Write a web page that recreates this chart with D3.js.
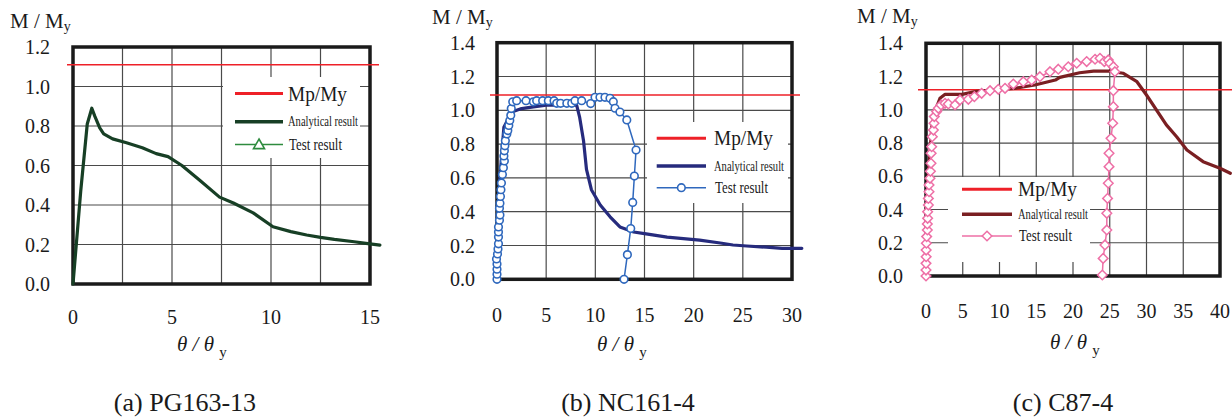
<!DOCTYPE html>
<html><head><meta charset="utf-8">
<script src="https://cdn.jsdelivr.net/npm/d3@7"></script>
<style>
body{margin:0;background:#fff}
svg{display:block}
</style>
</head><body>
<svg id="chart" width="1232" height="417"></svg>
<script>
// ---------- DATA ----------
const legendLabels = ["Mp/My", "Analytical result", "Test result"];
const captions = ["(a) PG163-13", "(b) NC161-4", "(c) C87-4"];

// Panel (a) PG163-13
const yTicksA = [0, 0.2, 0.4, 0.6, 0.8, 1.0, 1.2];
const xTicksA = [0, 5, 10, 15];
const xGridA = [2.5, 5, 7.5, 10, 12.5];
const mpMyA = 1.11;
const analyticalA = [[0,0],[0.39,0.47],[0.72,0.81],[0.95,0.89],[1.1,0.85],[1.35,0.79],[1.55,0.76],[2.0,0.735],[2.7,0.715],[3.5,0.69],[4.2,0.66],[4.8,0.645],[5.5,0.60],[6.4,0.525],[7.4,0.44],[8.1,0.41],[9.1,0.36],[10.1,0.29],[11.0,0.265],[11.8,0.248],[12.5,0.236],[13.2,0.226],[14.2,0.214],[14.8,0.206],[15.5,0.197]];
const testA = [];

// Panel (b) NC161-4
const yTicksB = [0, 0.2, 0.4, 0.6, 0.8, 1.0, 1.2, 1.4];
const xTicksB = [0, 5, 10, 15, 20, 25, 30];
const xGridB = [5, 10, 15, 20, 25];
const mpMyB = 1.09;
const analyticalB = [[0,0],[0.3,0.6],[0.7,0.9],[1.5,0.99],[2.5,1.01],[3.7,1.02],[5,1.03],[8.1,1.03],[8.4,0.96],[8.8,0.82],[9.1,0.65],[9.6,0.53],[10.5,0.44],[11.5,0.37],[12.5,0.31],[13.9,0.28],[15,0.27],[17.3,0.25],[20.6,0.232],[22.7,0.215],[24,0.203],[25.4,0.197],[27.4,0.19],[29,0.183],[31,0.183]];
const testB = [[0,0.00],[0,0.03],[0,0.06],[0,0.09],[-0.05,0.12],[0.05,0.15],[0.1,0.18],[0.15,0.21],[0.15,0.25],[0.15,0.28],[0.15,0.31],[0.25,0.35],[0.3,0.38],[0.25,0.42],[0.3,0.45],[0.35,0.49],[0.4,0.53],[0.45,0.57],[0.55,0.62],[0.65,0.66],[0.75,0.70],[0.7,0.73],[0.75,0.76],[0.8,0.79],[0.85,0.82],[1.0,0.86],[1.1,0.88],[1.2,0.91],[1.3,0.94],[1.4,0.97],[1.45,1.01],[1.6,1.05],[2.0,1.057],[2.95,1.057],[3.7,1.05],[4.03,1.057],[4.64,1.057],[5.22,1.057],[5.8,1.057],[6.07,1.041],[6.47,1.041],[7.1,1.041],[7.6,1.041],[7.93,1.057],[8.61,1.057],[9.53,1.04],[9.97,1.077],[10.47,1.077],[10.98,1.077],[11.49,1.071],[11.83,1.051],[12.0,1.012],[12.5,0.99],[13.2,0.943],[14.14,0.765],[13.97,0.611],[13.8,0.455],[13.6,0.30],[13.26,0.146],[12.92,0.0]];

// Panel (c) C87-4
const yTicksC = [0, 0.2, 0.4, 0.6, 0.8, 1.0, 1.2, 1.4];
const xTicksC = [0, 5, 10, 15, 20, 25, 30, 35, 40];
const xGridC = [5, 10, 15, 20, 25, 30, 35];
const mpMyC = 1.12;
const analyticalC = [[0,0],[0.3,0.6],[0.8,0.9],[1.3,1.0],[1.9,1.069],[2.6,1.093],[4.9,1.093],[6.7,1.109],[8.9,1.119],[12.1,1.129],[14.8,1.149],[17.6,1.179],[18.2,1.195],[20.9,1.223],[22.8,1.233],[25.0,1.233],[26.8,1.22],[28.7,1.169],[30.0,1.089],[32.7,0.909],[34.1,0.838],[35.5,0.758],[37.7,0.688],[40,0.648],[41.4,0.618]];
const testC = [[0,0],[0,0.036],[0,0.076],[0.02,0.116],[0.02,0.156],[0.05,0.197],[0.09,0.237],[0.18,0.277],[0.18,0.313],[0.22,0.347],[0.22,0.387],[0.32,0.427],[0.32,0.467],[0.41,0.507],[0.41,0.548],[0.54,0.588],[0.6,0.63],[0.68,0.678],[0.7,0.738],[0.77,0.778],[0.86,0.838],[1.0,0.878],[1.09,0.919],[1.13,0.959],[1.45,0.989],[1.68,1.009],[2.04,1.029],[2.59,1.039],[3.04,1.035],[3.95,1.029],[4.63,1.059],[5.76,1.063],[6.58,1.079],[7.57,1.099],[8.71,1.115],[9.84,1.123],[10.75,1.129],[11.88,1.155],[13.24,1.169],[14.38,1.179],[15.5,1.199],[16.87,1.229],[18.0,1.244],[19.36,1.259],[20.5,1.28],[21.86,1.29],[23.0,1.304],[23.67,1.31],[24.26,1.29],[24.8,1.30],[25.03,1.28],[25.49,1.259],[25.7,1.229],[25.49,1.115],[25.49,1.019],[25.4,0.919],[25.17,0.828],[24.9,0.738],[24.9,0.658],[24.8,0.558],[24.7,0.467],[24.6,0.377],[24.6,0.277],[24.35,0.187],[24.1,0.106],[23.99,0.006]];

// ---------- LAYOUT / STYLE ----------
const colors = {
  red: "#ee2028",
  a: {ana: "#173f25", test: "#2e8b3e"},
  b: {ana: "#262b7d", test: "#2f68bd"},
  c: {ana: "#7a1f22", test: "#ee6fa6"}
};

const panels = [
  {id:"a", frame:{x0:73,x1:370,y0:47,y1:284}, xDom:[0,15], yDom:[0,1.2],
   yTicks:yTicksA, xTicks:xTicksA, xGrid:xGridA, mp:mpMyA, ana:analyticalA, test:testA, marker:"triangle",
   yLabRight:50, xLabBase:324, titleY:{x:10,y:28}, theta:{x:177,y:351}, capX:185,
   redExt:[67,379], legBox:{x:223,y:77,w:137,h:81}, legRows:[93.5,121.7,144.5], legLine:[235,283], legText:288},
  {id:"b", frame:{x0:497,x1:792,y0:42.7,y1:279.3}, xDom:[0,30], yDom:[0,1.4],
   yTicks:yTicksB, xTicks:xTicksB, xGrid:xGridB, mp:mpMyB, ana:analyticalB, test:testB, marker:"circle",
   yLabRight:475, xLabBase:322, titleY:{x:432,y:24}, theta:{x:597,y:351}, capX:628,
   redExt:[490,800], legBox:{x:647,y:122,w:141,h:81}, legRows:[138.3,166,187.7], legLine:[656.7,706], legText:714},
  {id:"c", frame:{x0:926,x1:1220,y0:43.3,y1:276}, xDom:[0,40], yDom:[0,1.4],
   yTicks:yTicksC, xTicks:xTicksC, xGrid:xGridC, mp:mpMyC, ana:analyticalC, test:testC, marker:"diamond",
   yLabRight:903, xLabBase:318, titleY:{x:857,y:23}, theta:{x:1050,y:349}, capX:1063,
   redExt:[918,1232], legBox:{x:948,y:177,w:142,h:85}, legRows:[189.3,214.3,236], legLine:[962,1012], legText:1018}
];

const svg = d3.select("#chart");

function marker(g, type, x, y, col){
  if(type==="circle"){
    g.append("circle").attr("cx",x).attr("cy",y).attr("r",3.8)
      .attr("fill","#fff").attr("stroke",col).attr("stroke-width",1.6);
  } else if(type==="diamond"){
    const s=4.8;
    g.append("path").attr("d",`M${x},${y-s}L${x+s},${y}L${x},${y+s}L${x-s},${y}Z`)
      .attr("fill","#fff").attr("stroke",col).attr("stroke-width",1.5);
  } else if(type==="triangle"){
    const s=5.5;
    g.append("path").attr("d",`M${x},${y-s}L${x+s},${y+s*0.75}L${x-s},${y+s*0.75}Z`)
      .attr("fill","#fff").attr("stroke",col).attr("stroke-width",1.6);
  }
}

function txt(g, size){
  return g.append("text").attr("font-size",size)
    .style("font-family",`"Liberation Serif", "Times New Roman", serif`).attr("fill","#1a1a1a");
}

panels.forEach((p,i)=>{
  const g = svg.append("g");
  const f = p.frame;
  const x = d3.scaleLinear().domain(p.xDom).range([f.x0,f.x1]);
  const y = d3.scaleLinear().domain(p.yDom).range([f.y1,f.y0]);
  const col = colors[p.id];

  // gridlines
  g.append("g").selectAll("line").data(p.yTicks.filter(v=>v>p.yDom[0]&&v<p.yDom[1])).join("line")
    .attr("x1",f.x0).attr("x2",f.x1).attr("y1",d=>y(d)).attr("y2",d=>y(d))
    .attr("stroke","#4a4a4a").attr("stroke-width",1.2);
  g.append("g").selectAll("line").data(p.xGrid).join("line")
    .attr("x1",d=>x(d)).attr("x2",d=>x(d)).attr("y1",f.y0).attr("y2",f.y1)
    .attr("stroke","#4a4a4a").attr("stroke-width",1.2);

  // legend box (white, covers grid)
  g.append("rect").attr("x",p.legBox.x).attr("y",p.legBox.y).attr("width",p.legBox.w).attr("height",p.legBox.h)
    .attr("fill","#fff");

  // frame
  g.append("rect").attr("x",f.x0).attr("y",f.y0).attr("width",f.x1-f.x0).attr("height",f.y1-f.y0)
    .attr("fill","none").attr("stroke","#1a1a1a").attr("stroke-width",3.5);

  // Mp/My line
  g.append("line").attr("x1",p.redExt[0]).attr("x2",p.redExt[1]).attr("y1",y(p.mp)).attr("y2",y(p.mp))
    .attr("stroke",colors.red).attr("stroke-width",1.5);

  // test result line
  if(p.test.length){
    g.append("path").datum(p.test)
      .attr("d",d3.line().x(d=>x(d[0])).y(d=>y(d[1])))
      .attr("fill","none").attr("stroke",col.test).attr("stroke-width",1.5);
  }

  // analytical
  g.append("path").datum(p.ana)
    .attr("d",d3.line().x(d=>x(d[0])).y(d=>y(d[1])))
    .attr("fill","none").attr("stroke",col.ana).attr("stroke-width",3.2)
    .attr("stroke-linejoin","round").attr("stroke-linecap","round");

  if(p.test.length){
    const mg = g.append("g");
    p.test.forEach(d=>marker(mg,p.marker,x(d[0]),y(d[1]),col.test));
  }

  // y tick labels
  p.yTicks.forEach(d=>{
    txt(g,20).attr("x",p.yLabRight).attr("y",y(d)).attr("dy","0.35em")
      .attr("text-anchor","end").text(d3.format(".1f")(d));
  });
  // x tick labels
  p.xTicks.forEach(d=>{
    txt(g,20).attr("x",x(d)).attr("y",p.xLabBase)
      .attr("text-anchor","middle").text(d);
  });

  // y title
  const ty = txt(g,21).attr("x",p.titleY.x).attr("y",p.titleY.y);
  ty.append("tspan").text("M / M");
  ty.append("tspan").attr("font-size",14).attr("dy",3).text("y");

  // theta title
  const tt = txt(g,21).attr("x",p.theta.x).attr("y",p.theta.y);
  tt.append("tspan").attr("font-style","italic").text("θ / θ ");
  tt.append("tspan").attr("font-size",15).attr("dy",6).text("y");

  // caption
  txt(g,26).attr("x",p.capX).attr("y",411).attr("text-anchor","middle").text(captions[i]);

  // legend
  const L = g.append("g");
  const [lx0,lx1] = p.legLine;
  L.append("line").attr("x1",lx0).attr("x2",lx1).attr("y1",p.legRows[0]).attr("y2",p.legRows[0])
    .attr("stroke",colors.red).attr("stroke-width",3);
  L.append("line").attr("x1",lx0).attr("x2",lx1).attr("y1",p.legRows[1]).attr("y2",p.legRows[1])
    .attr("stroke",col.ana).attr("stroke-width",3.5);
  L.append("line").attr("x1",lx0).attr("x2",lx1).attr("y1",p.legRows[2]).attr("y2",p.legRows[2])
    .attr("stroke",col.test).attr("stroke-width",1.6);
  marker(L,p.marker,(lx0+lx1)/2,p.legRows[2],col.test);
  txt(L,20).attr("x",p.legText).attr("y",p.legRows[0]).attr("dy","0.35em")
    .attr("textLength",59).attr("lengthAdjust","spacingAndGlyphs").text(legendLabels[0]);
  txt(L,15).attr("x",p.legText).attr("y",p.legRows[1]).attr("dy","0.3em")
    .attr("textLength",70).attr("lengthAdjust","spacingAndGlyphs").text(legendLabels[1]);
  txt(L,17).attr("x",p.legText+1).attr("y",p.legRows[2]).attr("dy","0.3em")
    .attr("textLength",53).attr("lengthAdjust","spacingAndGlyphs").text(legendLabels[2]);
});
</script>
</body></html>
